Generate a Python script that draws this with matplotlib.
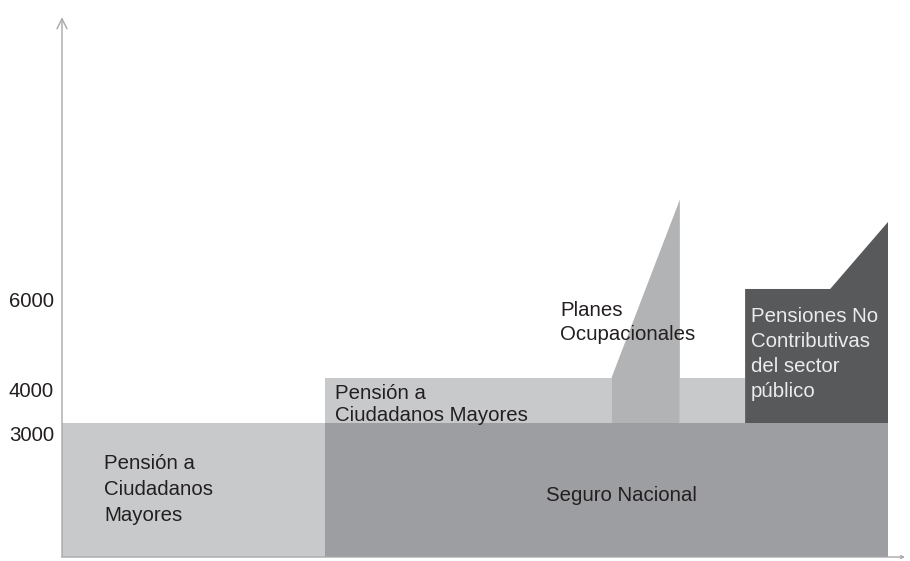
import matplotlib.pyplot as plt
import matplotlib
import matplotlib.transforms as mtrans

matplotlib.rcParams['font.family'] = ['Liberation Sans', 'DejaVu Sans']
matplotlib.rcParams['font.size'] = 14.7

# ─── Data (stylised scale, x in arbitrary units 0-100) ───
x_split = [0, 31.8, 100]          # left tier / Seguro Nacional
x_band = [31.8, 66.5, 74.8, 82.7]  # upper band and occupational plans
x_pub = [82.7, 93.0, 100]         # public sector block, start of peak
base_level = 3000
band_level = 4000
planes_levels = [4000, 8000]
pub_level = 6000
pub_peak = 7500
y_ticks = [3000, 4000, 6000]

c_light = '#c8c9cb'
c_mid = '#9d9ea2'
c_planes = '#b2b3b5'
c_dark = '#58595b'
c_axis = '#a8a8a8'
c_text = '#231f20'

fig = plt.figure(figsize=(9.1, 5.61), dpi=100)
ax = fig.add_axes([62 / 910, 4 / 561, 843 / 910, 542 / 561])
xmax = 843 / 8.26
ymax = 542 / 0.04467
ax.set_xlim(0, xmax)
ax.set_ylim(0, ymax)
for s in ax.spines.values():
    s.set_visible(False)
ax.set_xticks([])
ax.set_yticks([])

# base tier
ax.fill_between([x_split[0], x_split[1]], 0, base_level, color=c_light, lw=0)
ax.fill_between([x_split[1], x_split[2]], 0, base_level, color=c_mid, lw=0)

# upper band (Pension a Ciudadanos Mayores)
ax.fill_between([x_band[0], x_band[1]], base_level, band_level, color=c_light, lw=0)
ax.fill_between([x_band[2], x_band[3]], base_level, band_level, color=c_light, lw=0)

# Planes Ocupacionales
ax.fill([x_band[1], x_band[1], x_band[2], x_band[2]],
        [base_level, planes_levels[0], planes_levels[1], base_level],
        color=c_planes, lw=0)

# Pensiones No Contributivas del sector publico
ax.fill([x_pub[0], x_pub[0], x_pub[1], x_pub[2], x_pub[2]],
        [base_level, pub_level, pub_level, pub_peak, base_level],
        color=c_dark, lw=0)

# axes with arrows
ax.annotate('', xy=(0, ymax - 50), xytext=(0, 0), annotation_clip=False,
            arrowprops=dict(arrowstyle='->', color=c_axis, lw=1,
                            mutation_scale=18, shrinkA=0, shrinkB=0))
ax.annotate('', xy=(xmax, 0), xytext=(0, 0), annotation_clip=False,
            arrowprops=dict(arrowstyle='->', color=c_axis, lw=1,
                            mutation_scale=5, shrinkA=0, shrinkB=0))

# y labels sit just below their level
tick_tr = mtrans.blended_transform_factory(ax.transAxes, ax.transData) + \
    mtrans.ScaledTranslation(-8 / 100, -18.5 / 100, fig.dpi_scale_trans)
for v in y_ticks:
    ax.text(0, v, str(v), transform=tick_tr, ha='right', va='baseline', color=c_text)


# labels, one line at a time (pixel positions of baselines)
def label(x, baselines, lines, color=c_text, ha='left'):
    for by, line in zip(baselines, lines):
        ax.text((x - 62) / 8.26, (557 - by) / 0.04467, line, ha=ha,
                va='baseline', color=color)


label(104, [469, 495, 521], ['Pensión a', 'Ciudadanos', 'Mayores'])
label(621, [501], ['Seguro Nacional'], ha='center')
label(335, [399, 421], ['Pensión a', 'Ciudadanos Mayores'])
label(560, [316, 340], ['Planes', 'Ocupacionales'])
label(751, [322, 347, 372, 397],
      ['Pensiones No', 'Contributivas', 'del sector', 'público'], color='#ececec')

fig.savefig('out.png', dpi=100, facecolor='white')
